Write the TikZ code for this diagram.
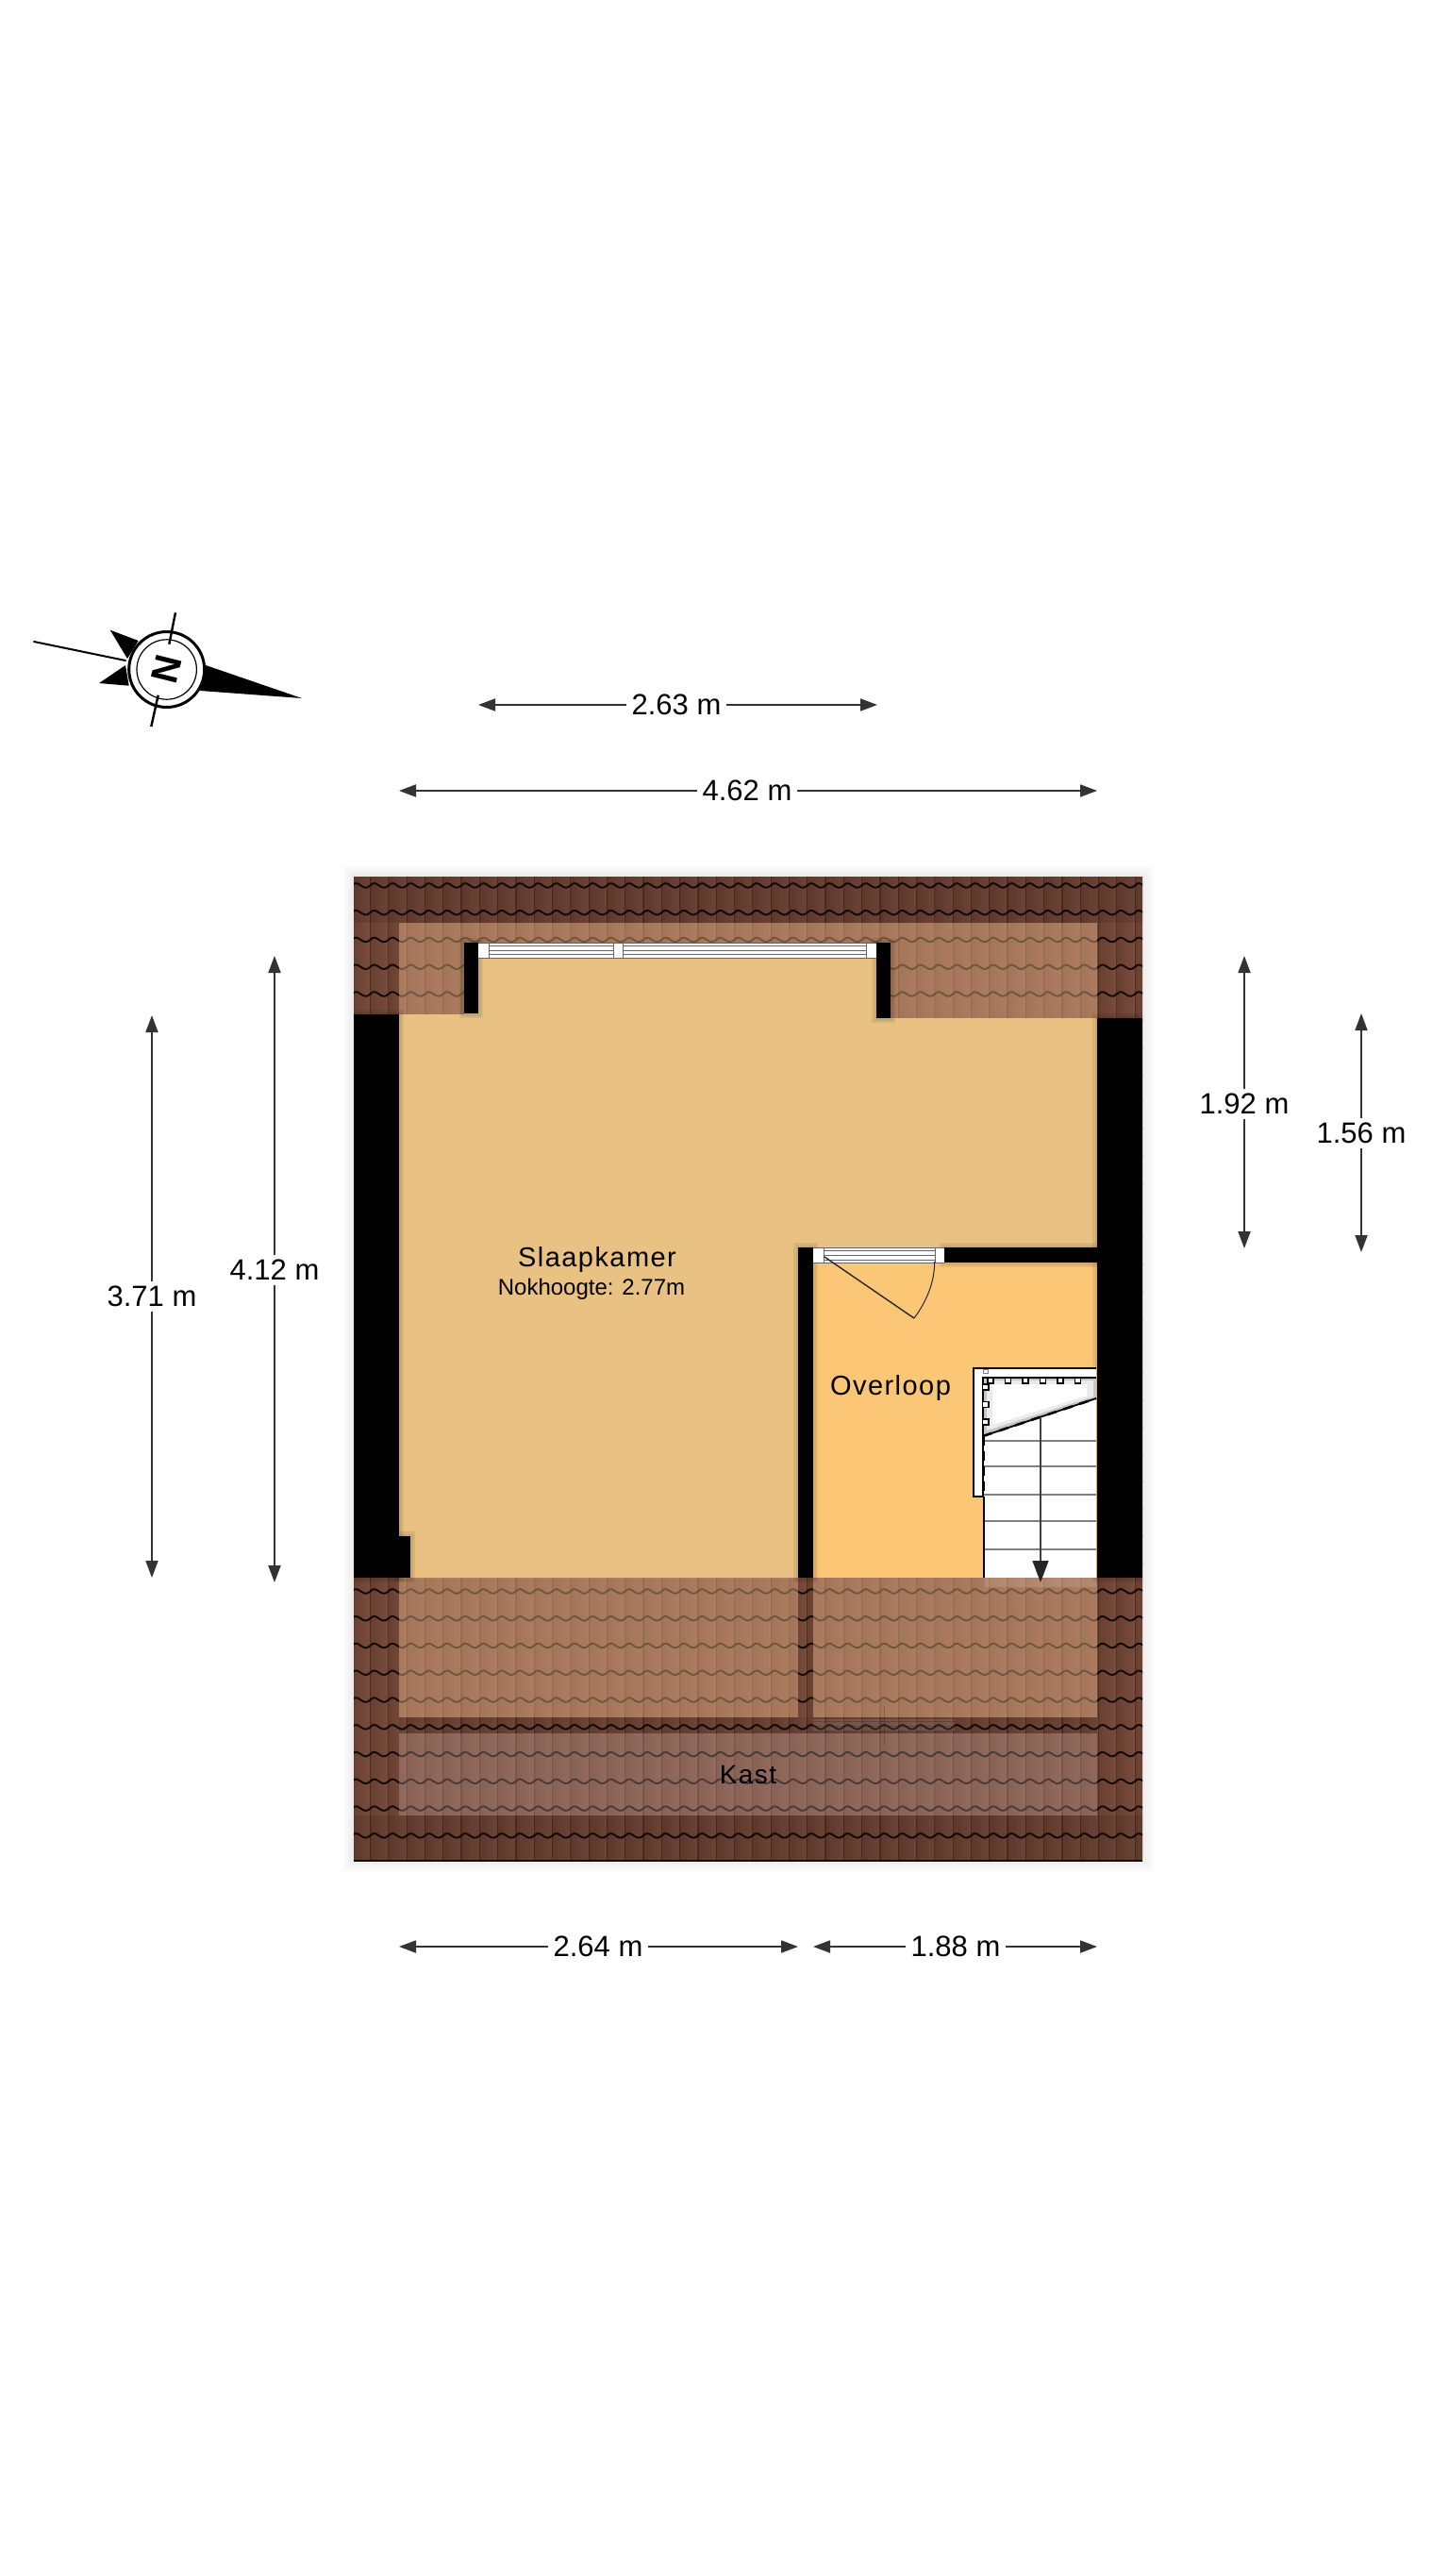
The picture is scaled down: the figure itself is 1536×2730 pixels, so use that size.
\documentclass[tikz,border=0pt]{standalone}
\usepackage{fontspec}
\setmainfont{Liberation Sans}
\newfontfamily\roomfont[LetterSpace=5]{Liberation Sans}
\usetikzlibrary{arrows.meta}
\definecolor{tileedge}{HTML}{68402F}
\definecolor{tilemid}{HTML}{8C5A46}
\definecolor{tileend}{HTML}{7A4C3E}
\definecolor{tilejoint}{HTML}{3A2015}
\definecolor{tilelight}{HTML}{F5C090}
\definecolor{kastcol}{HTML}{D0B0AC}
\definecolor{sleepcol}{HTML}{E9C283}
\definecolor{landcol}{HTML}{FCC677}
\tikzset{
  dimlabel/.style={font=\fontsize{31}{36}\selectfont, inner sep=5pt, fill=white},
  dimline/.style={line width=1.9pt, color=black!80, -{Triangle[length=18pt,width=13pt]}},
  roomlabel/.style={font=\roomfont\fontsize{29}{34}\selectfont, inner sep=0pt},
  tilewave/.style={line width=1.9pt, color=black!85!tileedge, line cap=round},
  wall/.style={fill=black},
  wallshade/.style={black, opacity=.07},
  glaze/.style={line width=1pt, color=black!60},
  stepline/.style={line width=1.2pt, color=black!50},
  stairrail/.style={fill=white, draw=black, line width=1.4pt},
}
\begin{document}
\begin{tikzpicture}[x=1pt,y=-1pt]
\path[use as bounding box, fill=white] (0,0) rectangle (1536,2730);

\coordinate (RoofA) at (375,929);
\coordinate (RoofB) at (1211,1972);

% shadow of the roof
\foreach \s in {2,4,...,12}
  \fill[black, opacity=.012] (375-\s,929-\s) rectangle (1211+\s,1972+\s);

% tiles
\begin{scope}
\clip (RoofA) rectangle (RoofB);
\foreach \c in {-1,...,43} {
  \pgfmathsetmacro\cx{392.5+19.3*\c}
  \shade[left color=tileedge, middle color=tilemid, right color=tileend] (\cx,929) rectangle (\cx+19.4,1972);
  \draw[tilejoint, opacity=.55, line width=1.2pt] (\cx,929) -- (\cx,1972);
}
\foreach \r in {0,...,35} {
  \pgfmathsetmacro\ry{938.4+28.77*\r}
  \foreach \c in {-1,...,43} {
    \pgfmathsetmacro\cx{392.5+19.3*\c}
    \draw[tilewave] (\cx,\ry) .. controls (\cx+7,\ry-8) and (\cx+11,\ry+8) .. (\cx+19.3,\ry);
  }
}
\end{scope}

% roof shades
\fill[black, opacity=.11] (375,929) rectangle (1211,978);
\fill[black, opacity=.11] (375,1924) rectangle (1211,1972);
\fill[black, opacity=.08] (423,1820) rectangle (1163,1837);
\fill[tilelight, opacity=.42] (423,978) rectangle (1163,1079);
\fill[tilelight, opacity=.42] (423,1672) rectangle (846,1820);
\fill[tilelight, opacity=.42] (862,1672) rectangle (1163,1820);
\fill[kastcol, opacity=.3] (423,1837) rectangle (1163,1924);
\draw[black, opacity=.8, line width=1.2pt] (375,1972) -- (1211,1972);

% stairs seen through the roof
\fill[white, opacity=.12] (1044,1672) rectangle (1162,1682);
\fill[white, opacity=.1] (862,1822) rectangle (1012,1835);
\foreach \y in {1824,1829,1834}
  \draw[black, opacity=.2, line width=1pt] (862,\y) -- (1012,\y);
\draw[black, opacity=.2, line width=1pt] (937,1808) -- (937,1850);

% rooms
\fill[sleepcol] (423,1075) -- (492,1075) -- (507,1015) -- (929,1015) -- (929,1079) -- (1163,1079)
  -- (1163,1322) -- (846,1322) -- (846,1672) -- (423,1672) -- cycle;
\fill[landcol] (862,1338) rectangle (1163,1672);

% walls
\begin{scope}
\clip (RoofA) rectangle (RoofB);
\foreach \xa/\ya/\xb/\yb in {375/1075/423/1672, 423/1628/435/1672, 1163/1079/1211/1672,
    846/1322/862/1672, 1001/1322/1163/1338, 492/999/507/1074, 929/999/944/1079} {
  \fill[wallshade] (\xa-5,\ya-5) rectangle (\xb+5,\yb+5);
  \fill[wallshade] (\xa-2.5,\ya-2.5) rectangle (\xb+2.5,\yb+2.5);
}
\end{scope}
\foreach \xa/\ya/\xb/\yb in {375/1075/423/1672, 423/1628/435/1672, 1163/1079/1211/1672,
    846/1322/862/1672, 1001/1322/1163/1338, 492/999/507/1074, 929/999/944/1079}
  \fill[wall] (\xa,\ya) rectangle (\xb,\yb);

% window
\fill[white] (507,999) rectangle (929,1015);
\draw[glaze] (507,999) -- (929,999);
\draw[glaze] (507,1015) -- (929,1015);
\foreach \y in {1002.7,1007,1011.5} {
  \draw[glaze] (518,\y) -- (650,\y);
  \draw[glaze] (660,\y) -- (918,\y);
}
\foreach \x in {518,650,660,918}
  \draw[glaze] (\x,999) -- (\x,1015);

% door
\fill[white] (862,1322) rectangle (1001,1338);
\draw[glaze] (862,1322) -- (1001,1322);
\draw[glaze] (862,1338) -- (1001,1338);
\foreach \y in {1325,1330,1335}
  \draw[glaze] (873,\y) -- (991,\y);
\foreach \x in {873,991}
  \draw[glaze] (\x,1322) -- (\x,1338);
\coordinate (DoorA) at (874,1332);
\coordinate (DoorB) at (969,1397);
\draw[line width=1.4pt, black!85] (DoorA) -- (DoorB);
\draw[line width=1pt, black!85] (DoorB) .. controls (983,1378) and (990.7,1358) .. (990.7,1337);

% stairs
\fill[white] (1042,1460) rectangle (1162,1672);
\fill[black!22] (1042,1460) -- (1162,1460) -- (1162,1482) -- (1042,1522) -- cycle;
\fill[black!8] (1046,1463) -- (1159,1463) -- (1159,1480) -- (1046,1516) -- cycle;
\fill[white] (1052,1467) -- (1152,1467) -- (1152,1479) -- (1052,1510) -- cycle;
\foreach \y in {1527,1554,1584,1612,1642}
  \draw[stepline] (1043,\y) -- (1162,\y);
\draw[stairrail] (1162,1450) -- (1032,1450) -- (1032,1586) -- (1042,1586) -- (1042,1460) -- (1162,1460);
\fill[white] (1042,1451) rectangle (1162,1459);
\draw[line width=.8pt, black!50] (1042,1451) rectangle (1047,1455);
% newel teeth
\foreach \x in {1050,1068.5,...,1160} {
  \fill[white] (\x-3,1460) rectangle (\x+3,1466);
  \draw[line width=1.3pt] (\x-3,1460) -- (\x-3,1466) -- (\x+3,1466) -- (\x+3,1460);
}
\foreach \y in {1470,1488.5,1507} {
  \fill[white] (1042,\y-3) rectangle (1048,\y+3);
  \draw[line width=1.3pt] (1042,\y-3) -- (1048,\y-3) -- (1048,\y+3) -- (1042,\y+3);
}
\draw[line width=1.4pt] (1042,1460) -- (1162,1460);
\draw[line width=1.8pt] (1042,1522) -- (1162,1482);
\draw[line width=2.6pt, dashed, dash pattern=on 10pt off 8pt] (1042,1522) -- (1162,1482);
\draw[line width=2.2pt, dash pattern=on 10pt off 6pt] (1043,1522) -- (1043,1586);
\draw[line width=1.6pt] (1043,1586) -- (1043,1672);
\coordinate (WalkA) at (1103,1503);
\coordinate (WalkB) at (1103,1677);
\draw[line width=1.2pt, black!75, -{Triangle[length=23pt,width=17pt,color=black!85]}] (WalkA) -- (WalkB);

% room labels
\node[roomlabel] (sleep) at (633,1335) {Slaapkamer};
\node[font=\fontsize{24}{28}\selectfont, inner sep=0pt] (ridge) at (627,1366) {Nokhoogte: 2.77m};
\node[roomlabel] (land) at (944,1471) {Overloop};
\node[roomlabel, font=\roomfont\fontsize{28}{32}\selectfont] (kast) at (793,1881) {Kast};

% dimensions
\coordinate (A1) at (507,747);
\coordinate (A2) at (930,747);
\coordinate (B1) at (423,838);
\coordinate (B2) at (1163,838);
\coordinate (C1) at (423,2063);
\coordinate (C2) at (846,2063);
\coordinate (D1) at (862,2063);
\coordinate (D2) at (1163,2063);
\coordinate (E1) at (161,1076);
\coordinate (E2) at (161,1672);
\coordinate (F1) at (291,1013);
\coordinate (F2) at (291,1677);
\coordinate (G1) at (1319,1013);
\coordinate (G2) at (1319,1323);
\coordinate (H1) at (1443,1074);
\coordinate (H2) at (1443,1327);
\node[dimlabel] (A) at (717,747) {2.63 m};
\node[dimlabel] (B) at (792,838) {4.62 m};
\node[dimlabel] (C) at (634,2063) {2.64 m};
\node[dimlabel] (D) at (1013,2063) {1.88 m};
\node[dimlabel] (E) at (161,1374) {3.71 m};
\node[dimlabel] (F) at (291,1346) {4.12 m};
\node[dimlabel] (G) at (1319,1170) {1.92 m};
\node[dimlabel] (H) at (1443,1201) {1.56 m};
\foreach \n in {A,B,C,D,E,F,G,H} {
  \draw[dimline] (\n) -- (\n1);
  \draw[dimline] (\n) -- (\n2);
}

% compass
\coordinate (N) at (176.7,709.5);
\fill (218,705) -- (320,740) -- (212,732) -- cycle;
\fill (116.7,667.7) -- (146.7,679) -- (135,698) -- cycle;
\fill (105,724) -- (133,705) -- (136.7,726.7) -- cycle;
\draw[line width=2pt, line cap=round] (36,680) -- (133,700);
\draw[line width=3pt, fill=white] (N) circle (40);
\draw[line width=1.2pt] (N) circle (31.7);
\draw[line width=2.4pt] (186,649.3) -- (179.3,682.7);
\draw[line width=2.4pt] (167.7,736.7) -- (160.3,770);
\node[font=\bfseries\fontsize{40}{44}\selectfont, rotate=76, inner sep=0pt] (north) at (N) {N};
\end{tikzpicture}
\end{document}
